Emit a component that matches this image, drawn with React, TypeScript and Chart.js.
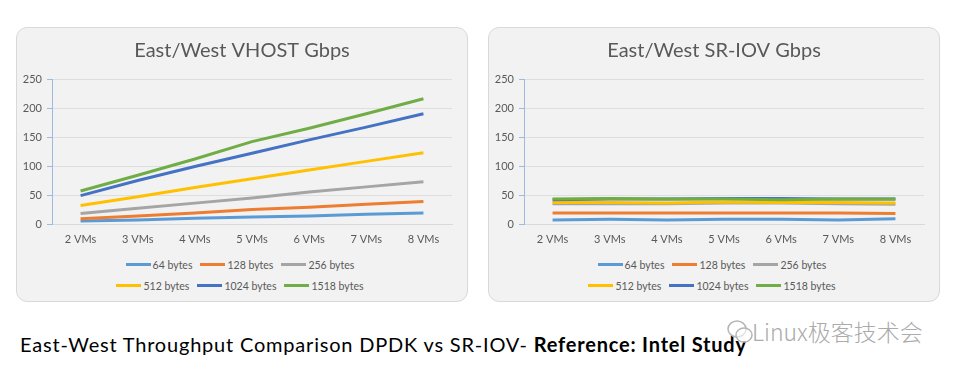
import React, { useEffect, useRef } from 'react';
import { Chart, registerables } from 'chart.js';

Chart.register(...registerables);

const FONT = 'Lato, "Noto Sans", sans-serif';

const categories = ['2 VMs', '3 VMs', '4 VMs', '5 VMs', '6 VMs', '7 VMs', '8 VMs'];
const seriesLabels = ['64 bytes', '128 bytes', '256 bytes', '512 bytes', '1024 bytes', '1518 bytes'];
const seriesColors = ['#5B9BD5', '#ED7D31', '#A5A5A5', '#FFC000', '#4472C4', '#70AD47'];
const yTickMin = 0;
const yTickMax = 250;
const yTickStep = 50;

// East/West VHOST Gbps
const vhost64 = [5, 7, 10, 12, 14, 17, 19];
const vhost128 = [9, 14, 19, 25, 29, 34, 39];
const vhost256 = [18, 27, 36, 45, 55, 64, 73];
const vhost512 = [32, 47, 63, 78, 93, 108, 123];
const vhost1024 = [49, 75, 99, 122, 145, 167, 190];
const vhost1518 = [57, 84, 112, 142, 165, 190, 216];

// East/West SR-IOV Gbps
const sriov64 = [7, 8, 7, 8, 8, 7, 9];
const sriov128 = [19, 19, 19, 19, 19, 19, 18];
const sriov256 = [35, 35, 35, 36, 36, 35, 34];
const sriov512 = [37, 37, 36, 38, 37, 37, 36];
const sriov1024 = [42, 43, 43, 44, 44, 43, 43];
const sriov1518 = [43, 44, 43, 43, 42, 43, 43];

const vhostSeries = [vhost64, vhost128, vhost256, vhost512, vhost1024, vhost1518];
const sriovSeries = [sriov64, sriov128, sriov256, sriov512, sriov1024, sriov1518];

const PANEL_W = 452;
const PANEL_H = 275;
const CANVAS_H = 225;

function ChartPanel({ left, title, series }: { left: number; title: string; series: number[][] }) {
  const ref = useRef<HTMLCanvasElement | null>(null);

  useEffect(() => {
    if (!ref.current) return;
    const chart = new Chart(ref.current, {
      type: 'line',
      data: {
        labels: categories,
        datasets: series.map((d, i) => ({
          label: seriesLabels[i],
          data: d,
          borderColor: seriesColors[i],
          backgroundColor: seriesColors[i],
          borderWidth: 3,
          pointRadius: 0,
          tension: 0,
          order: series.length - i,
        })),
      },
      options: {
        animation: false,
        responsive: false,
        maintainAspectRatio: false,
        layout: { padding: { left: 0, right: 0, top: 0, bottom: 0 } },
        plugins: {
          legend: { display: false },
          tooltip: { enabled: false },
          title: {
            display: true,
            text: title,
            color: '#595959',
            font: { family: FONT, size: 20, weight: 'normal' },
            padding: { top: 12, bottom: 16 },
          },
        },
        scales: {
          x: {
            offset: true,
            grid: { display: false, drawTicks: false },
            border: { color: '#d9d9d9', width: 1 },
            ticks: { color: '#595959', font: { family: FONT, size: 11 }, padding: 9, maxRotation: 0, autoSkip: false },
            afterFit: (s: any) => {
              s.height = 28;
            },
          },
          y: {
            min: yTickMin,
            max: yTickMax,
            ticks: { stepSize: yTickStep, color: '#595959', font: { family: FONT, size: 11 }, padding: 5 },
            grid: { color: '#dedede', tickColor: '#9dbbe0', tickLength: 5, lineWidth: 1 },
            border: { color: '#9dbbe0', width: 1 },
            afterFit: (s: any) => {
              s.width = 36;
            },
          },
          yRightSpace: {
            position: 'right',
            display: true,
            grid: { display: false, drawTicks: false },
            border: { display: false },
            ticks: { display: false },
            afterFit: (s: any) => {
              s.width = 16;
            },
          },
        },
      } as any,
    });
    return () => chart.destroy();
  }, []);

  const rows = [seriesLabels.slice(0, 3), seriesLabels.slice(3, 6)];

  return (
    <div
      style={{
        position: 'absolute',
        left,
        top: 27,
        width: PANEL_W,
        height: PANEL_H,
        boxSizing: 'border-box',
        border: '1px solid #d9d9d9',
        borderRadius: 11,
        background: '#f2f2f2',
        overflow: 'hidden',
      }}
    >
      <canvas ref={ref} width={PANEL_W} height={CANVAS_H} style={{ position: 'absolute', left: -1, top: -1, display: 'block' }} />
      <div style={{ position: 'absolute', left: -1, top: CANVAS_H + 1, width: PANEL_W }}>
        {rows.map((row, ri) => (
          <div
            key={ri}
            style={{
              display: 'flex',
              justifyContent: 'center',
              alignItems: 'center',
              height: 21,
              fontFamily: FONT,
              fontSize: 10.5,
              color: '#595959',
              paddingRight: 4,
            }}
          >
            {row.map((lab) => {
              const idx = seriesLabels.indexOf(lab);
              return (
                <div key={lab} style={{ display: 'flex', alignItems: 'center', margin: '0 4px' }}>
                  <span style={{ display: 'inline-block', width: 25, height: 3, background: seriesColors[idx], marginRight: 2 }} />
                  <span>{lab}</span>
                </div>
              );
            })}
          </div>
        ))}
      </div>
    </div>
  );
}

export default function App() {
  return (
    <div style={{ position: 'absolute', left: 0, top: 0, width: 954, height: 372, background: '#ffffff', overflow: 'hidden' }}>
      <ChartPanel left={16} title="East/West VHOST Gbps" series={vhostSeries} />
      <ChartPanel left={488} title="East/West SR-IOV Gbps" series={sriovSeries} />
      <div
        style={{
          position: 'absolute',
          left: 20,
          top: 331,
          fontFamily: FONT,
          fontSize: 20,
          letterSpacing: '0.8px',
          color: '#000',
          whiteSpace: 'nowrap',
          lineHeight: '26px',
        }}
      >
        East-West Throughput Comparison DPDK vs SR-IOV- <b>Reference: Intel Study</b>
      </div>
      <svg style={{ position: 'absolute', left: 726, top: 318 }} width={28} height={28} viewBox="0 0 28 28">
        <ellipse cx={11} cy={11} rx={9} ry={8} fill="none" stroke="#b5b5b5" strokeWidth={1.5} />
        <ellipse cx={18} cy={17} rx={8} ry={7} fill="rgba(255,255,255,0.6)" stroke="#b5b5b5" strokeWidth={1.5} />
      </svg>
      <div
        style={{
          position: 'absolute',
          left: 752,
          top: 316,
          fontFamily: '"Noto Sans CJK SC", "Noto Sans", sans-serif',
          fontSize: 23,
          fontWeight: 300,
          color: '#ababab',
          whiteSpace: 'nowrap',
          lineHeight: '30px',
        }}
      >
        Linux极客技术会
      </div>
    </div>
  );
}
